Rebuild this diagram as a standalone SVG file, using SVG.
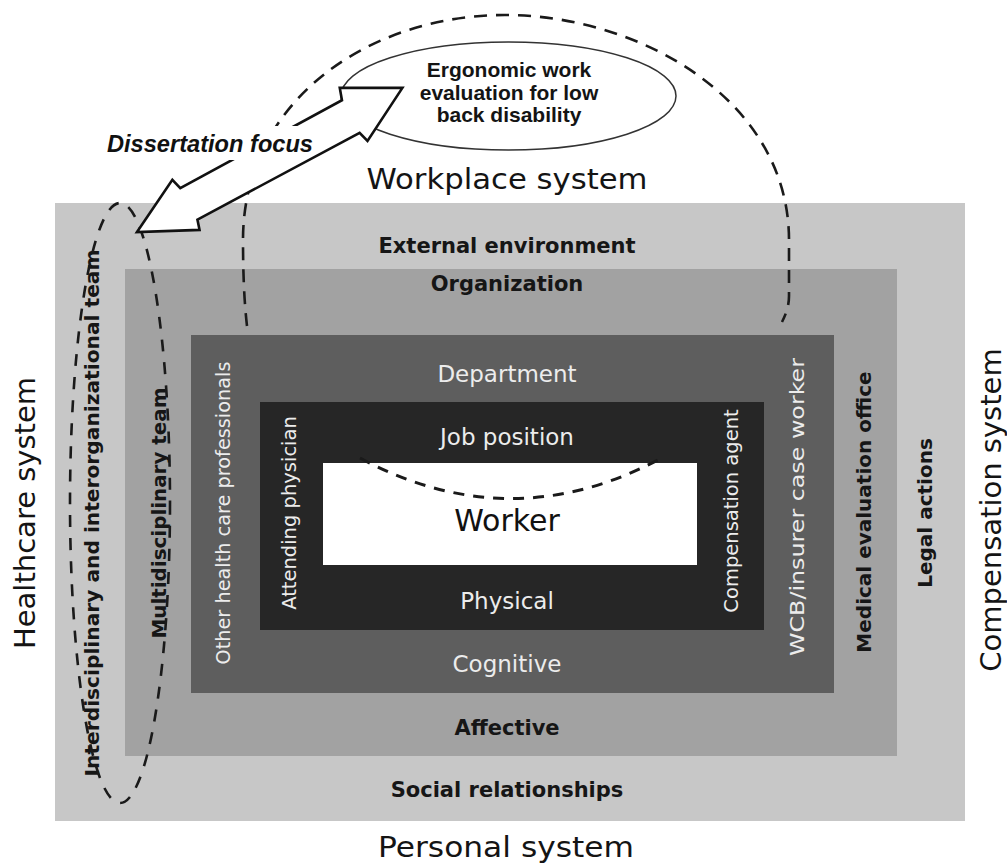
<svg xmlns="http://www.w3.org/2000/svg" width="1007" height="868" viewBox="0 0 1007 868">
<style>
.sys{font-family:"DejaVu Sans","Liberation Sans",sans-serif;font-size:29px;fill:#141414;text-anchor:middle}
.dk{font-family:"DejaVu Sans","Liberation Sans",sans-serif;font-weight:bold;font-size:21px;fill:#161616;text-anchor:middle}
.dkv{font-family:"DejaVu Sans","Liberation Sans",sans-serif;font-weight:bold;font-size:20px;fill:#161616;text-anchor:middle}
.wt{font-family:"DejaVu Sans","Liberation Sans",sans-serif;font-size:23px;fill:#ececec;text-anchor:middle}
.wtv{font-family:"DejaVu Sans","Liberation Sans",sans-serif;font-size:19.5px;fill:#ececec;text-anchor:middle}
.wk{font-family:"DejaVu Sans","Liberation Sans",sans-serif;font-size:30px;fill:#111;text-anchor:middle}
.et{font-family:"Liberation Sans",Arial,sans-serif;font-weight:bold;font-size:21px;fill:#141414;text-anchor:middle}
.df{font-family:"Liberation Sans",Arial,sans-serif;font-weight:bold;font-style:italic;font-size:24px;fill:#111;text-anchor:middle}
.dash{fill:none;stroke:#1a1a1a;stroke-width:2.6;stroke-dasharray:13 9}
</style>

<g id="band-outer">
<rect x="55" y="203" width="910" height="618" fill="#c7c7c7"/>
<text class="dk" x="507" y="253">External environment</text>
<text class="dk" x="507" y="797">Social relationships</text>
<text class="dkv" transform="translate(99,513) rotate(-90)" textLength="527" lengthAdjust="spacingAndGlyphs">Interdisciplinary and interorganizational team</text>
<text class="dkv" transform="translate(932,513) rotate(-90)">Legal actions</text>
</g>

<g id="band-organization">
<rect x="125" y="269" width="772" height="487" fill="#a2a2a2"/>
<text class="dk" x="507" y="291">Organization</text>
<text class="dk" x="507" y="735">Affective</text>
<text class="dkv" transform="translate(166,513) rotate(-90)" textLength="251" lengthAdjust="spacingAndGlyphs">Multidisciplinary team</text>
<text class="dkv" transform="translate(871,512) rotate(-90)">Medical evaluation office</text>
</g>

<g id="band-department">
<rect x="191" y="335" width="643" height="358" fill="#5e5e5e"/>
<text class="wt" x="507" y="382">Department</text>
<text class="wt" x="507" y="672">Cognitive</text>
<text class="wtv" transform="translate(230,513) rotate(-90)" textLength="303" lengthAdjust="spacingAndGlyphs">Other health care professionals</text>
<text class="wtv" transform="translate(804,507) rotate(-90)" textLength="298" lengthAdjust="spacingAndGlyphs">WCB/insurer case worker</text>
</g>

<g id="band-job">
<rect x="260" y="402" width="504" height="228" fill="#262626"/>
<text class="wt" x="507" y="445">Job position</text>
<text class="wt" x="507" y="609">Physical</text>
<text class="wtv" transform="translate(296,513) rotate(-90)">Attending physician</text>
<text class="wtv" transform="translate(738,511) rotate(-90)">Compensation agent</text>
</g>

<g id="worker">
<rect x="323" y="463" width="374" height="102" fill="#ffffff"/>
<text class="wk" x="507" y="531">Worker</text>
</g>

<g id="system-labels">
<text class="sys" x="507" y="189" textLength="281" lengthAdjust="spacingAndGlyphs">Workplace system</text>
<text class="sys" x="506" y="857" textLength="256" lengthAdjust="spacingAndGlyphs">Personal system</text>
<text class="sys" transform="translate(35,513) rotate(-90)">Healthcare system</text>
<text class="sys" transform="translate(1001,510) rotate(-90)">Compensation system</text>
</g>

<g id="connectors">
<path class="dash" d="M 247 326 C 244 300 243 270 243 240 C 243 100 370 15 505 15 C 640 15 789 100 789 240 L 789 296 C 789 306 786 314 782 322"/>
<ellipse class="dash" cx="120" cy="503" rx="50" ry="300" style="stroke-dasharray:12 11"/>
<path class="dash" d="M 360 458 Q 509 538 658 460" style="stroke-dasharray:11 9;stroke-width:3"/>
</g>

<g id="ergonomic-evaluation">
<ellipse cx="508.5" cy="96" rx="167.5" ry="54" fill="#ffffff" stroke="#333" stroke-width="1.5"/>
<text class="et" x="509" y="77">Ergonomic work</text>
<text class="et" x="509" y="99.5">evaluation for low</text>
<text class="et" x="509" y="122">back disability</text>
</g>

<g id="dissertation-focus-arrow">
<polygon transform="translate(137,232) rotate(-28.5)" points="0,0 56,-29 59,-18 243,-18 247,-30 302,0 246,30 243,19 59,18 56,28" fill="#ffffff" stroke="#111" stroke-width="2.6" stroke-linejoin="miter"/>
<rect x="104" y="126" width="198" height="34" fill="#ffffff"/>
<text class="df" x="210" y="152" textLength="206" lengthAdjust="spacingAndGlyphs">Dissertation focus</text>
</g>
</svg>
